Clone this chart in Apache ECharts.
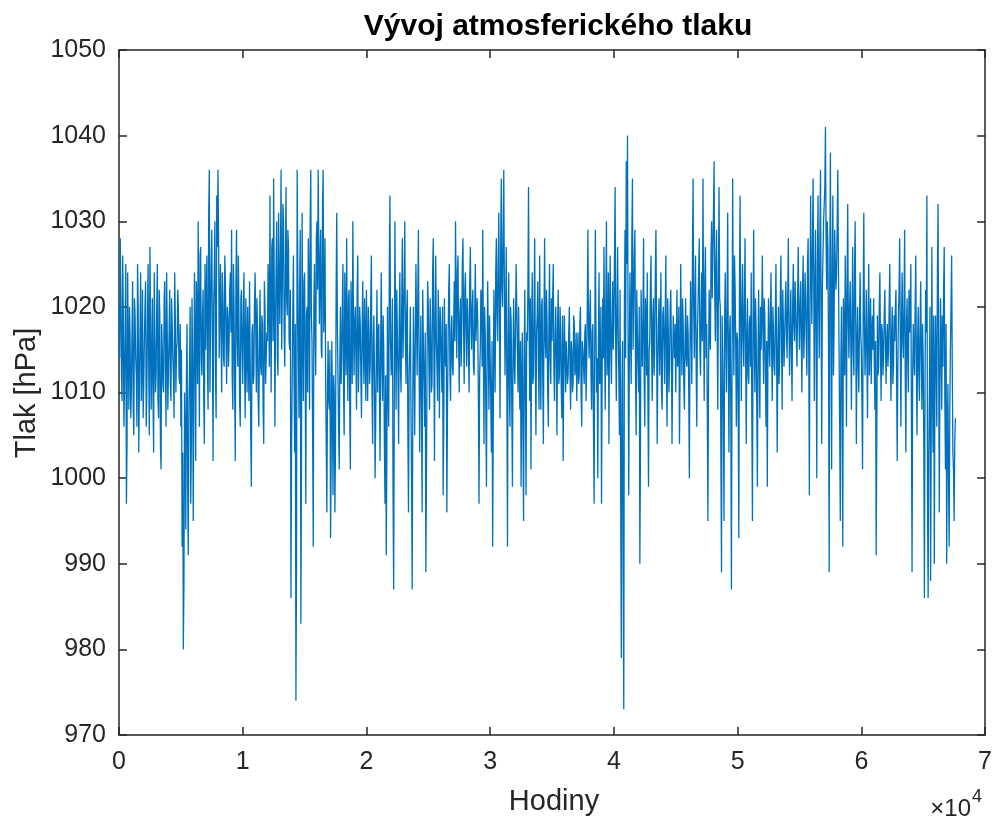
<!DOCTYPE html>
<html>
<head>
<meta charset="utf-8">
<script src="https://cdn.jsdelivr.net/npm/echarts@6/dist/echarts.min.js"></script>
<style>
html,body{margin:0;padding:0;background:#fff;}
#chart{width:995px;height:817px;}
</style>
</head>
<body>
<div id="chart"></div>
<script>
// ---- data: pressure in hPa ----
// pressureA: samples at hours 0, 100, 200, ... ; pressureB: samples at hours 50, 150, 250, ...
const hourStep = 100;
const pressureA = [
1020,1028,1012,1026,1006,1018,997,1024,1008,1016,
1010,1023,1005,1019,1012,1025,1003,1017,1009,1022,
1011,1020,1006,1018,1014,1027,1008,1021,1003,1016,
1012,1025,1007,1019,1001,1015,1010,1023,1006,1017,
1013,1022,1009,1018,1012,1024,1010,1016,1020,1011,
1006,992,980,1010,994,1018,991,1013,997,1021,
995,1024,1002,1019,1030,1006,1027,1012,1022,1004,
1015,1026,1008,1036,1018,1029,1002,1024,1012,1033,
1036,1014,1025,1010,1021,1013,1023,1011,1019,1016,
1024,1029,1008,1020,1002,1029,1013,1018,1006,1022,
1011,1024,1007,1016,1020,1009,1014,999,1018,1012,
1024,1010,1017,1006,1022,1012,1018,1004,1020,1014,
1016,1022,1033,1010,1028,1035,1006,1025,1014,1031,
1018,1036,1022,1030,1013,1034,1019,1027,1015,986,
1012,1026,1003,974,1036,1015,1022,983,1031,1009,
1024,997,1020,1028,1008,1036,1016,992,1025,1012,
1030,1036,1018,1029,1014,1036,1020,1012,996,1016,
1008,993,1016,998,1010,1004,1031,1012,1001,1020,
1014,1025,1005,1019,1028,1009,1022,1001,1017,1030,
1012,1020,1008,1026,1014,1018,1007,1023,1011,1016,
1022,1009,1017,1013,1026,1004,1019,1000,1015,1010,
1018,1002,1024,1009,1015,997,991,1020,1006,1033,
1012,1021,987,1030,1008,1017,1004,1024,1010,1028,
1018,1030,1011,1022,996,1015,1008,987,1020,1005,
1025,1012,1029,1003,1019,996,1016,1006,989,1014,
1020,1008,1017,1011,1028,1002,1026,1013,1022,1007,
1018,1010,998,1021,1013,996,1016,1025,1009,1019,
1012,1023,1030,1014,1026,1010,1021,1017,1028,1011,
1024,1013,1019,1010,1027,1015,1022,1012,1025,1016,
1018,997,1015,1021,1029,1004,1017,999,1023,1008,
1014,1003,992,1022,1010,1028,1016,1031,1007,1035,
1020,1036,1012,1027,992,1024,1006,1018,999,1021,
1011,1025,1015,1020,1008,999,1017,995,1022,998,
1016,1034,1009,1001,1024,1012,1028,1005,1019,1013,
1026,1008,1021,1004,1028,1014,1018,1006,1025,1011,
1016,1025,1009,1020,1005,1022,1012,1017,1007,1002,
1019,1010,1016,1012,1020,1008,1015,1011,1018,1013,
1009,1017,1012,1020,1006,1015,1011,1018,1013,1029,
1014,1022,1008,1018,997,1029,1010,1000,1024,1012,
997,1021,1027,1008,1030,1015,1004,1026,1011,1023,
1018,1034,1009,1027,1012,1022,979,1016,973,1029,
1037,1040,998,1024,1011,1035,1020,1029,1005,1017,
1010,990,1022,1013,1028,1006,1019,1024,999,1016,
1026,1009,1021,1015,1029,1004,1018,1012,1024,1008,
1020,1011,1026,1006,1017,1013,1022,1004,1019,1014,
1010,1022,1015,1004,1025,1012,1018,1008,1021,1013,
1017,1000,1023,1011,1035,1014,1026,1006,1020,1028,
1012,1024,1035,1009,1027,1018,995,1022,1015,1030,
1026,1037,1016,1029,1008,1034,1020,989,1014,995,
1024,1010,1031,1003,1019,987,1035,1012,1022,1006,
1016,993,1033,1009,1025,1013,1028,1004,1021,1011,
1019,1024,995,1029,1010,1017,999,1022,1007,1015,
1026,1011,1019,1006,999,1021,1013,1024,1009,1017,
1012,1025,1003,1020,1014,1026,1008,1018,1016,1023,
1014,1028,1012,1022,1009,1025,1016,1020,1013,1027,
1015,1023,1010,1026,1017,1021,1012,1028,998,1033,
1018,1035,1009,1029,1000,1033,1014,1036,1004,1026,
1030,1041,1022,1027,989,1038,1001,1033,1018,1025,
1024,1036,1015,995,1020,992,1017,1026,1006,1032,
1014,1023,1008,1027,1012,1030,1004,1020,1010,1024,
1015,1001,1031,1012,1022,1007,1025,1016,1011,1019,
1021,1008,991,1019,1013,1024,1009,1017,1014,1022,
1011,1018,1015,1025,1009,1020,1013,1016,1022,1002,
1019,1028,1006,1024,1014,1029,1003,1021,1010,1017,
1025,989,1018,1012,1026,1005,1020,1009,1023,1008,
1014,986,1022,1033,986,1010,988,1027,1003,990,
1019,1006,1032,996,1021,1008,1013,1027,1001,990,
1011,992,1015,1026,1003,995,1007
];
const pressureB = [
1014,1022,1009,1019,1011,1025,1004,1015,1020,1007,
1017,1008,1021,1014,1006,1020,1011,1024,1013,1007,
1016,1023,1010,1025,1005,1019,1013,1009,1024,1010,
1020,1009,1022,1004,1018,1011,1021,1013,1024,1008,
1017,1011,1021,1014,1007,1019,1015,1022,1012,1018,
1015,1003,988,1005,1012,999,1008,1020,1004,1014,
1010,1016,1023,1011,1017,1026,1014,1019,1009,1025,
1021,1013,1031,1010,1025,1016,1020,1030,1007,1027,
1028,1019,1017,1024,1014,1026,1016,1020,1013,1022,
1017,1012,1025,1010,1023,1016,1026,1009,1021,1015,
1019,1013,1021,1010,1015,1023,1005,1017,1011,1020,
1018,1021,1009,1016,1013,1019,1008,1023,1011,1017,
1025,1013,1019,1027,1016,1022,1018,1030,1012,1023,
1026,1015,1032,1017,1024,1021,1029,1016,1022,1004,
1020,1011,1018,990,1025,1007,1029,1002,1018,1023,
1013,1019,1010,1023,1030,1019,1005,1020,1017,1028,
1022,1027,1025,1015,1032,1017,1028,1004,1010,1009,
1015,1002,1009,1012,996,1022,1018,1006,1014,1011,
1020,1010,1024,1012,1016,1021,1008,1023,1011,1019,
1018,1014,1022,1010,1020,1012,1017,1015,1021,1009,
1014,1020,1011,1021,1010,1016,1012,1007,1022,1017,
1010,1016,1013,1019,1004,1012,1003,1011,1025,1016,
1015,998,1008,1019,1022,1012,1018,1013,1020,1014,
1023,1016,1019,1005,1012,1020,999,1010,1013,1016,
1018,1021,1015,1013,1008,1022,1011,1017,1000,1023,
1013,1021,1010,1024,1015,1019,1016,1009,1017,1020,
1014,1020,1006,1015,1018,1008,1022,1012,1017,1013,
1018,1016,1021,1024,1016,1019,1013,1025,1018,1022,
1017,1021,1014,1023,1018,1020,1013,1019,1016,1021,
1009,1012,1022,1013,1016,1020,1008,1014,1016,1019,
1009,1016,1006,1017,1024,1019,1025,1018,1027,1022,
1028,1022,1019,1010,1016,1011,1020,1008,1015,1013,
1018,1020,1010,1013,1016,1011,1005,1014,1009,1017,
1022,1018,1021,1016,1011,1020,1014,1017,1023,1008,
1015,1020,1012,1018,1016,1022,1010,1019,1014,1021,
1021,1013,1016,1014,1018,1011,1020,1010,1019,1014,
1014,1016,1011,1017,1013,1016,1010,1019,1012,1017,
1014,1011,1018,1010,1016,1013,1017,1009,1020,1017,
1019,1012,1017,1006,1015,1018,1014,1016,1011,1020,
1012,1014,1016,1021,1012,1024,1019,1015,1018,1015,
1026,1015,1020,1017,1005,998,1010,990,1020,1014,
1025,1016,1014,1017,1028,1015,1026,1012,1022,1013,
1020,1004,1016,1019,1011,1021,1012,1009,1015,1022,
1015,1019,1012,1024,1018,1013,1021,1017,1010,1019,
1016,1019,1012,1021,1010,1020,1015,1013,1016,1018,
1016,1013,1020,1012,1017,1021,1011,1016,1014,1019,
1010,1015,1018,1026,1020,1021,1013,1017,1024,1015,
1019,1016,1020,1023,1014,1008,1012,1017,1026,1021,
1031,1022,1025,1017,1023,1021,1002,1019,1007,1018,
1016,1021,1014,1017,1008,1013,1020,1026,1015,1017,
1007,1022,1018,1020,1016,1021,1014,1017,1012,1018,
1013,1007,1018,1016,1021,1008,1015,1013,1020,1019,
1017,1021,1012,1016,1014,1016,1019,1015,1020,1013,
1019,1015,1014,1011,1021,1016,1022,1013,1020,1017,
1021,1018,1017,1015,1020,1018,1023,1016,1021,1019,
1020,1016,1022,1014,1024,1016,1025,1015,1019,1024,
1027,1024,1022,1016,1025,1020,1028,1019,1022,1030,
1034,1028,1030,1015,1024,1019,1025,1012,1029,1022,
1030,1025,1006,1014,1009,1021,1012,1019,1023,1018,
1020,1016,1019,1015,1024,1018,1016,1013,1018,1017,
1009,1020,1018,1016,1014,1019,1012,1021,1017,1015,
1013,1016,1005,1012,1020,1015,1018,1012,1019,1016,
1016,1013,1020,1014,1017,1011,1019,1020,1012,1013,
1022,1015,1019,1016,1020,1012,1018,1014,1022,1019,
1007,1012,1014,1020,1013,1016,1012,1018,1014,1018,
1004,1012,1017,997,1003,1020,1005,1011,1019,1012,
1013,1024,1015,1011,1016,1019,1022,1009,1018,1005,
1000,1008,1020,1013,1001,1004
];
const xTickLabels = ['0','1','2','3','4','5','6','7'];
const xScale = 10000;
const yMin = 970, yMax = 1050, yStep = 10;
const titleText = 'Vývoj atmosferického tlaku';
const xName = 'Hodiny';
const yName = 'Tlak [hPa]';

// interleave the two sample sets in time order
const seriesData = [];
pressureA.forEach((v, i) => {
  seriesData.push([i * hourStep, v]);
  if (i < pressureB.length) seriesData.push([i * hourStep + hourStep / 2, pressureB[i]]);
});

const FONT = '"Liberation Sans", Arial, Helvetica, sans-serif';
const AX = '#262626';
const lineStyle = {color: AX, width: 1.5};

function xAx(pos, showLabel) {
  return {
    type: 'value', position: pos, min: 0, max: 7 * xScale, interval: xScale,
    axisLine: {show: true, onZero: false, lineStyle},
    axisTick: {show: true, inside: true, length: 8, lineStyle},
    axisLabel: {show: showLabel, formatter: v => xTickLabels[Math.round(v / xScale)],
      fontSize: 25, color: AX, fontFamily: FONT, margin: 15},
    splitLine: {show: false}
  };
}
function yAx(pos, showLabel) {
  return {
    type: 'value', position: pos, min: yMin, max: yMax, interval: yStep,
    axisLine: {show: true, onZero: false, lineStyle},
    axisTick: {show: true, inside: true, length: 8, lineStyle},
    axisLabel: {show: showLabel, formatter: v => String(v), fontSize: 25, color: AX, fontFamily: FONT, margin: 13},
    splitLine: {show: false}
  };
}

const chart = echarts.init(document.getElementById('chart'), null, {renderer: 'canvas'});
chart.setOption({
  animation: false,
  backgroundColor: '#ffffff',
  grid: {left: 119, right: 6, top: 50, bottom: 82, containLabel: false},
  xAxis: [xAx('bottom', true), xAx('top', false)],
  yAxis: [yAx('left', true), yAx('right', false)],
  series: [{
    type: 'line', xAxisIndex: 0, yAxisIndex: 0,
    data: seriesData, showSymbol: false, symbol: 'none', sampling: null,
    lineStyle: {color: '#0072BD', width: 1.3}, silent: true
  }],
  graphic: [
    {type: 'text', x: 558, y: 27, style: {text: titleText, font: 'bold 30px ' + FONT, fill: '#000', textAlign: 'center', textVerticalAlign: 'middle'}},
    {type: 'text', x: 554, y: 802, style: {text: xName, font: '29px ' + FONT, fill: AX, textAlign: 'center', textVerticalAlign: 'middle'}},
    {type: 'text', x: 27, y: 393, rotation: Math.PI / 2, style: {text: yName, font: '29px ' + FONT, fill: AX, textAlign: 'center', textVerticalAlign: 'middle'}},
    {type: 'text', x: 971, y: 809, style: {text: '×10', font: '24px ' + FONT, fill: AX, textAlign: 'right', textVerticalAlign: 'middle'}},
    {type: 'text', x: 972, y: 797, style: {text: '4', font: '18px ' + FONT, fill: AX, textAlign: 'left', textVerticalAlign: 'middle'}}
  ]
});
</script>
</body>
</html>
